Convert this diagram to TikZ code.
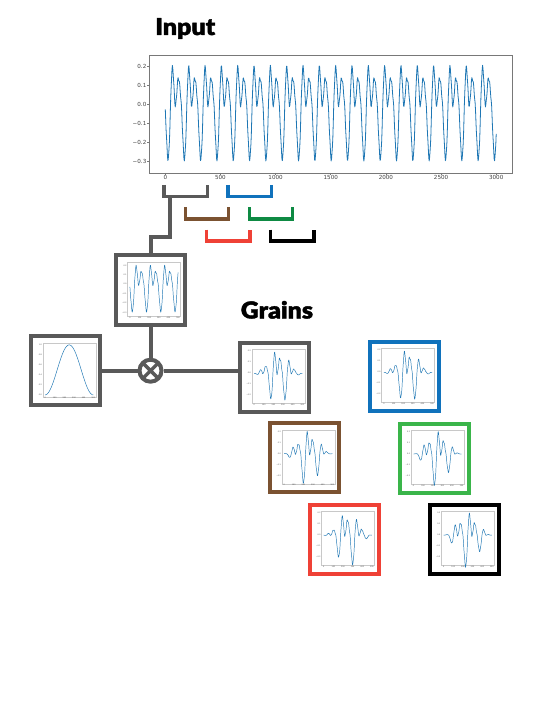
\documentclass[tikz,border=0pt]{standalone}
\usepackage{fontspec}
\newfontfamily\headfont{Lato}[UprightFont={* Black},FakeBold=1.6,FakeStretch=1.07]
\newfontfamily\tickfont{DejaVu Sans}
\usepackage{xcolor}

\definecolor{graingray}{RGB}{89,89,89}
\definecolor{grainblue}{RGB}{16,114,188}
\definecolor{grainbrown}{RGB}{123,82,49}
\definecolor{graingreen}{RGB}{14,138,67}
\definecolor{grainlime}{RGB}{58,181,74}
\definecolor{grainred}{RGB}{239,65,54}
\definecolor{plotblue}{RGB}{31,119,180}
\definecolor{axisgray}{RGB}{120,120,120}
\definecolor{minigray}{RGB}{200,200,200}

\tikzset{declare function={
  ph(\t)=mod(\t+121,148)/148*360;
  sig(\t)=-0.001-0.146*cos(ph(\t))+0.037*sin(ph(\t))-0.125*cos(2*ph(\t))+0.048*sin(2*ph(\t))-0.016*cos(3*ph(\t))-0.034*sin(3*ph(\t))+0.008*sin(4*ph(\t))+0.01*sin(9*ph(\t));
  hann(\s)=0.5*(1-cos(0.72*\s));
}}

% frame and x labels of a small plot, drawn round the centre of its box
\newcommand{\miniframe}{%
  \draw[miniaxis] (-23,-28) rectangle (30,26);
  \foreach \s in {0,100,...,500}
    \node[minilbl,anchor=north] at ({-20.59+0.09636*\s},26.3) {\s};
}

\begin{document}
\begin{tikzpicture}[x=0.75pt,y=0.75pt,yscale=-1,xscale=1,
  box/.style={draw, line width=3pt, minimum size=51.75pt, inner sep=0pt, fill=white},
  link/.style={draw=graingray, line width=3pt},
  bracket/.style={line width=2.6pt},
  wave/.style={plotblue, line width=0.35pt, line join=round},
  frame/.style={draw=axisgray, line width=0.6pt},
  miniaxis/.style={draw=minigray, line width=0.25pt},
  ticklbl/.style={font=\tickfont\fontsize{4.2}{5}\selectfont, text=black!75, inner sep=0.5pt},
  minilbl/.style={font=\tickfont\fontsize{1.4}{1.6}\selectfont, text=black!70, inner sep=0.2pt}]
\useasboundingbox (0,0) rectangle (547,705);

% Text Node
\node[anchor=base west, inner sep=0pt, font=\headfont\fontsize{17.5}{20}\selectfont] (input) at (155,35) {Input};
% Text Node
\node[anchor=base west, inner sep=0pt, font=\headfont\fontsize{17.5}{20}\selectfont] (grains) at (240.5,318.5) {Grains};

%Shape: input plot
\draw[frame] (149,55) rectangle (512,173);
\foreach \v/\l in {0.2/0.2,0.1/0.1,0.0/0.0,-0.1/−0.1,-0.2/−0.2,-0.3/−0.3}
  \draw[frame] (149,{104.3-190*\v}) -- ++(-1.6,0) node[ticklbl,anchor=east] {\l};
\foreach \t in {0,500,...,3000}
  \draw[frame] ({165.3+0.1103*\t},173) -- ++(0,1.6) node[ticklbl,anchor=north] {\t};
\draw[wave, line width=0.6pt] plot[domain=0:3000, samples=801] ({165.3+0.1103*\x},{104.3-190*sig(\x)});

%Straight Lines: window brackets
\foreach \k/\col in {0/graingray,1/grainbrown,2/grainred,3/grainblue,4/graingreen,5/black}
  \draw[bracket, \col] ({164+21.35*\k},{185+22.3*mod(\k,3)}) |- ({207.3+21.35*\k},{196.5+22.3*mod(\k,3)}) -- ({207.3+21.35*\k},{185+22.3*mod(\k,3)});

%Shape: boxes
\node[box, draw=graingray] (seg) at (150.5,290) {};
\node[box, draw=graingray] (hann) at (65.7,370.7) {};
\node[draw=graingray, line width=3pt, circle, minimum size=16.5pt, inner sep=0pt, fill=white,
  path picture={\draw[graingray, line width=2.6pt] (path picture bounding box.north west) -- (path picture bounding box.south east) (path picture bounding box.north east) -- (path picture bounding box.south west);}] (mult) at (150.5,370.7) {};

%Straight Lines
\coordinate (tap) at (170,196.5);
\draw[link] (tap) -- ++(0,40.2) -| (seg.north);
\draw[link] (seg.south) -- (mult.north);
\draw[link] (hann.east) -- (mult.west);

% segment plot
\begin{scope}[shift={(seg.center)}]
  \miniframe
  \foreach \v/\l in {0.2/0.2,0.1/0.1,0.0/0.0,-0.1/−0.1,-0.2/−0.2,-0.3/−0.3}
    \node[minilbl,anchor=east] at (-23.3,{-5.7-93.5*\v}) {\l};
  \draw[wave] plot[domain=0:500, samples=181] ({-20.59+0.09636*\x},{-5.7-93.5*sig(\x)});
\end{scope}
% window plot
\begin{scope}[shift={(hann.center)}]
  \miniframe
  \foreach \v in {0.0,0.2,0.4,0.6,0.8,1.0}
    \node[minilbl,anchor=east] at (-23.3,{24.2-50*\v}) {\v};
  \draw[wave] plot[domain=0:500, samples=101] ({-20.59+0.09636*\x},{24.2-50*hann(\x)});
\end{scope}

%Shape: grains
\foreach \nm/\col/\cx/\cy/\st in {g0/graingray/274.7/377.3/0, g1/grainbrown/304.7/457.7/121, g2/grainred/344.3/539.2/316, g3/grainblue/404.5/376.3/444, g4/grainlime/434/458/547, g5/black/464.2/539.2/685}{
  \node[box, draw=\col] (\nm) at (\cx,\cy) {};
  \begin{scope}[shift={(\nm.center)}]
    \miniframe
    \foreach \v/\l in {0.2/0.2,0.1/0.1,0.0/0.0,-0.1/−0.1,-0.2/−0.2}
      \node[minilbl,anchor=east] at (-23.3,{-4-110*\v}) {\l};
    \draw[wave] plot[domain=0:500, samples=181] ({-20.59+0.09636*\x},{-4-110*sig(\x+\st)*hann(\x)});
  \end{scope}
}
\draw[link] (mult.east) -- (mult.east -| g0.west);

\end{tikzpicture}
\end{document}
